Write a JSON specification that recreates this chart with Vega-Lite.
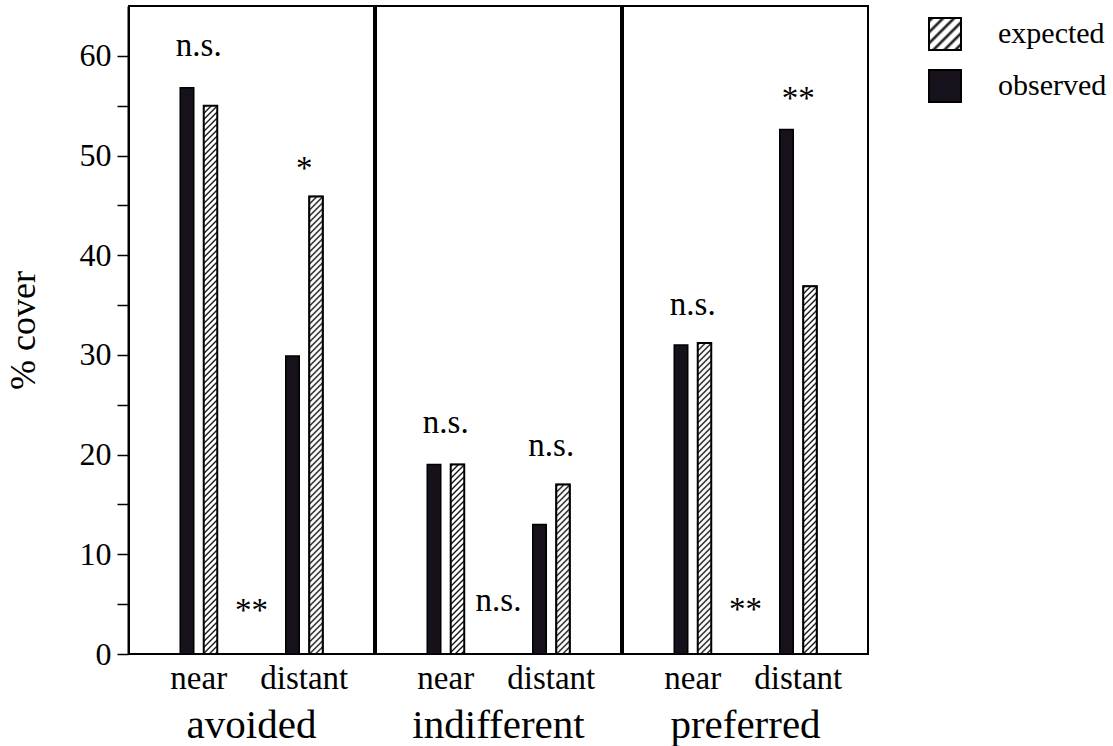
{
  "$schema": "https://vega.github.io/schema/vega-lite/v6.json",
  "background": "white",
  "padding": {"left": 5, "top": 5, "right": 5, "bottom": 2},
  "params": [
    {"name": "hs", "value": [
{"offset":0,"color":"#fff"},{"offset":0.003,"color":"#000"},{"offset":0.006,"color":"#fff"},
{"offset":0.01,"color":"#fff"},{"offset":0.013,"color":"#000"},{"offset":0.016,"color":"#fff"},
{"offset":0.02,"color":"#fff"},{"offset":0.023,"color":"#000"},{"offset":0.026,"color":"#fff"},
{"offset":0.03,"color":"#fff"},{"offset":0.033,"color":"#000"},{"offset":0.036,"color":"#fff"},
{"offset":0.04,"color":"#fff"},{"offset":0.043,"color":"#000"},{"offset":0.046,"color":"#fff"},
{"offset":0.05,"color":"#fff"},{"offset":0.053,"color":"#000"},{"offset":0.056,"color":"#fff"},
{"offset":0.06,"color":"#fff"},{"offset":0.063,"color":"#000"},{"offset":0.066,"color":"#fff"},
{"offset":0.07,"color":"#fff"},{"offset":0.073,"color":"#000"},{"offset":0.076,"color":"#fff"},
{"offset":0.08,"color":"#fff"},{"offset":0.083,"color":"#000"},{"offset":0.086,"color":"#fff"},
{"offset":0.09,"color":"#fff"},{"offset":0.093,"color":"#000"},{"offset":0.096,"color":"#fff"},
{"offset":0.10,"color":"#fff"},{"offset":0.103,"color":"#000"},{"offset":0.106,"color":"#fff"},
{"offset":0.11,"color":"#fff"},{"offset":0.113,"color":"#000"},{"offset":0.116,"color":"#fff"},
{"offset":0.12,"color":"#fff"},{"offset":0.123,"color":"#000"},{"offset":0.126,"color":"#fff"},
{"offset":0.13,"color":"#fff"},{"offset":0.133,"color":"#000"},{"offset":0.136,"color":"#fff"},
{"offset":0.14,"color":"#fff"},{"offset":0.143,"color":"#000"},{"offset":0.146,"color":"#fff"},
{"offset":0.15,"color":"#fff"},{"offset":0.153,"color":"#000"},{"offset":0.156,"color":"#fff"},
{"offset":0.16,"color":"#fff"},{"offset":0.163,"color":"#000"},{"offset":0.166,"color":"#fff"},
{"offset":0.17,"color":"#fff"},{"offset":0.173,"color":"#000"},{"offset":0.176,"color":"#fff"},
{"offset":0.18,"color":"#fff"},{"offset":0.183,"color":"#000"},{"offset":0.186,"color":"#fff"},
{"offset":0.19,"color":"#fff"},{"offset":0.193,"color":"#000"},{"offset":0.196,"color":"#fff"},
{"offset":0.20,"color":"#fff"},{"offset":0.203,"color":"#000"},{"offset":0.206,"color":"#fff"},
{"offset":0.21,"color":"#fff"},{"offset":0.213,"color":"#000"},{"offset":0.216,"color":"#fff"},
{"offset":0.22,"color":"#fff"},{"offset":0.223,"color":"#000"},{"offset":0.226,"color":"#fff"},
{"offset":0.23,"color":"#fff"},{"offset":0.233,"color":"#000"},{"offset":0.236,"color":"#fff"},
{"offset":0.24,"color":"#fff"},{"offset":0.243,"color":"#000"},{"offset":0.246,"color":"#fff"},
{"offset":0.25,"color":"#fff"},{"offset":0.253,"color":"#000"},{"offset":0.256,"color":"#fff"},
{"offset":0.26,"color":"#fff"},{"offset":0.263,"color":"#000"},{"offset":0.266,"color":"#fff"},
{"offset":0.27,"color":"#fff"},{"offset":0.273,"color":"#000"},{"offset":0.276,"color":"#fff"},
{"offset":0.28,"color":"#fff"},{"offset":0.283,"color":"#000"},{"offset":0.286,"color":"#fff"},
{"offset":0.29,"color":"#fff"},{"offset":0.293,"color":"#000"},{"offset":0.296,"color":"#fff"},
{"offset":0.30,"color":"#fff"},{"offset":0.303,"color":"#000"},{"offset":0.306,"color":"#fff"},
{"offset":0.31,"color":"#fff"},{"offset":0.313,"color":"#000"},{"offset":0.316,"color":"#fff"},
{"offset":0.32,"color":"#fff"},{"offset":0.323,"color":"#000"},{"offset":0.326,"color":"#fff"},
{"offset":0.33,"color":"#fff"},{"offset":0.333,"color":"#000"},{"offset":0.336,"color":"#fff"},
{"offset":0.34,"color":"#fff"},{"offset":0.343,"color":"#000"},{"offset":0.346,"color":"#fff"},
{"offset":0.35,"color":"#fff"},{"offset":0.353,"color":"#000"},{"offset":0.356,"color":"#fff"},
{"offset":0.36,"color":"#fff"},{"offset":0.363,"color":"#000"},{"offset":0.366,"color":"#fff"},
{"offset":0.37,"color":"#fff"},{"offset":0.373,"color":"#000"},{"offset":0.376,"color":"#fff"},
{"offset":0.38,"color":"#fff"},{"offset":0.383,"color":"#000"},{"offset":0.386,"color":"#fff"},
{"offset":0.39,"color":"#fff"},{"offset":0.393,"color":"#000"},{"offset":0.396,"color":"#fff"},
{"offset":0.40,"color":"#fff"},{"offset":0.403,"color":"#000"},{"offset":0.406,"color":"#fff"},
{"offset":0.41,"color":"#fff"},{"offset":0.413,"color":"#000"},{"offset":0.416,"color":"#fff"},
{"offset":0.42,"color":"#fff"},{"offset":0.423,"color":"#000"},{"offset":0.426,"color":"#fff"},
{"offset":0.43,"color":"#fff"},{"offset":0.433,"color":"#000"},{"offset":0.436,"color":"#fff"},
{"offset":0.44,"color":"#fff"},{"offset":0.443,"color":"#000"},{"offset":0.446,"color":"#fff"},
{"offset":0.45,"color":"#fff"},{"offset":0.453,"color":"#000"},{"offset":0.456,"color":"#fff"},
{"offset":0.46,"color":"#fff"},{"offset":0.463,"color":"#000"},{"offset":0.466,"color":"#fff"},
{"offset":0.47,"color":"#fff"},{"offset":0.473,"color":"#000"},{"offset":0.476,"color":"#fff"},
{"offset":0.48,"color":"#fff"},{"offset":0.483,"color":"#000"},{"offset":0.486,"color":"#fff"},
{"offset":0.49,"color":"#fff"},{"offset":0.493,"color":"#000"},{"offset":0.496,"color":"#fff"},
{"offset":0.50,"color":"#fff"},{"offset":0.503,"color":"#000"},{"offset":0.506,"color":"#fff"},
{"offset":0.51,"color":"#fff"},{"offset":0.513,"color":"#000"},{"offset":0.516,"color":"#fff"},
{"offset":0.52,"color":"#fff"},{"offset":0.523,"color":"#000"},{"offset":0.526,"color":"#fff"},
{"offset":0.53,"color":"#fff"},{"offset":0.533,"color":"#000"},{"offset":0.536,"color":"#fff"},
{"offset":0.54,"color":"#fff"},{"offset":0.543,"color":"#000"},{"offset":0.546,"color":"#fff"},
{"offset":0.55,"color":"#fff"},{"offset":0.553,"color":"#000"},{"offset":0.556,"color":"#fff"},
{"offset":0.56,"color":"#fff"},{"offset":0.563,"color":"#000"},{"offset":0.566,"color":"#fff"},
{"offset":0.57,"color":"#fff"},{"offset":0.573,"color":"#000"},{"offset":0.576,"color":"#fff"},
{"offset":0.58,"color":"#fff"},{"offset":0.583,"color":"#000"},{"offset":0.586,"color":"#fff"},
{"offset":0.59,"color":"#fff"},{"offset":0.593,"color":"#000"},{"offset":0.596,"color":"#fff"},
{"offset":0.60,"color":"#fff"},{"offset":0.603,"color":"#000"},{"offset":0.606,"color":"#fff"},
{"offset":0.61,"color":"#fff"},{"offset":0.613,"color":"#000"},{"offset":0.616,"color":"#fff"},
{"offset":0.62,"color":"#fff"},{"offset":0.623,"color":"#000"},{"offset":0.626,"color":"#fff"},
{"offset":0.63,"color":"#fff"},{"offset":0.633,"color":"#000"},{"offset":0.636,"color":"#fff"},
{"offset":0.64,"color":"#fff"},{"offset":0.643,"color":"#000"},{"offset":0.646,"color":"#fff"},
{"offset":0.65,"color":"#fff"},{"offset":0.653,"color":"#000"},{"offset":0.656,"color":"#fff"},
{"offset":0.66,"color":"#fff"},{"offset":0.663,"color":"#000"},{"offset":0.666,"color":"#fff"},
{"offset":0.67,"color":"#fff"},{"offset":0.673,"color":"#000"},{"offset":0.676,"color":"#fff"},
{"offset":0.68,"color":"#fff"},{"offset":0.683,"color":"#000"},{"offset":0.686,"color":"#fff"},
{"offset":0.69,"color":"#fff"},{"offset":0.693,"color":"#000"},{"offset":0.696,"color":"#fff"},
{"offset":0.70,"color":"#fff"},{"offset":0.703,"color":"#000"},{"offset":0.706,"color":"#fff"},
{"offset":0.71,"color":"#fff"},{"offset":0.713,"color":"#000"},{"offset":0.716,"color":"#fff"},
{"offset":0.72,"color":"#fff"},{"offset":0.723,"color":"#000"},{"offset":0.726,"color":"#fff"},
{"offset":0.73,"color":"#fff"},{"offset":0.733,"color":"#000"},{"offset":0.736,"color":"#fff"},
{"offset":0.74,"color":"#fff"},{"offset":0.743,"color":"#000"},{"offset":0.746,"color":"#fff"},
{"offset":0.75,"color":"#fff"},{"offset":0.753,"color":"#000"},{"offset":0.756,"color":"#fff"},
{"offset":0.76,"color":"#fff"},{"offset":0.763,"color":"#000"},{"offset":0.766,"color":"#fff"},
{"offset":0.77,"color":"#fff"},{"offset":0.773,"color":"#000"},{"offset":0.776,"color":"#fff"},
{"offset":0.78,"color":"#fff"},{"offset":0.783,"color":"#000"},{"offset":0.786,"color":"#fff"},
{"offset":0.79,"color":"#fff"},{"offset":0.793,"color":"#000"},{"offset":0.796,"color":"#fff"},
{"offset":0.80,"color":"#fff"},{"offset":0.803,"color":"#000"},{"offset":0.806,"color":"#fff"},
{"offset":0.81,"color":"#fff"},{"offset":0.813,"color":"#000"},{"offset":0.816,"color":"#fff"},
{"offset":0.82,"color":"#fff"},{"offset":0.823,"color":"#000"},{"offset":0.826,"color":"#fff"},
{"offset":0.83,"color":"#fff"},{"offset":0.833,"color":"#000"},{"offset":0.836,"color":"#fff"},
{"offset":0.84,"color":"#fff"},{"offset":0.843,"color":"#000"},{"offset":0.846,"color":"#fff"},
{"offset":0.85,"color":"#fff"},{"offset":0.853,"color":"#000"},{"offset":0.856,"color":"#fff"},
{"offset":0.86,"color":"#fff"},{"offset":0.863,"color":"#000"},{"offset":0.866,"color":"#fff"},
{"offset":0.87,"color":"#fff"},{"offset":0.873,"color":"#000"},{"offset":0.876,"color":"#fff"},
{"offset":0.88,"color":"#fff"},{"offset":0.883,"color":"#000"},{"offset":0.886,"color":"#fff"},
{"offset":0.89,"color":"#fff"},{"offset":0.893,"color":"#000"},{"offset":0.896,"color":"#fff"},
{"offset":0.90,"color":"#fff"},{"offset":0.903,"color":"#000"},{"offset":0.906,"color":"#fff"},
{"offset":0.91,"color":"#fff"},{"offset":0.913,"color":"#000"},{"offset":0.916,"color":"#fff"},
{"offset":0.92,"color":"#fff"},{"offset":0.923,"color":"#000"},{"offset":0.926,"color":"#fff"},
{"offset":0.93,"color":"#fff"},{"offset":0.933,"color":"#000"},{"offset":0.936,"color":"#fff"},
{"offset":0.94,"color":"#fff"},{"offset":0.943,"color":"#000"},{"offset":0.946,"color":"#fff"}
    ]}
  ],
  "data": {"values": [
    {"group": "avoided", "pos": "near", "type": "observed", "value": 56.8},
    {"group": "avoided", "pos": "near", "type": "expected", "value": 55.0},
    {"group": "avoided", "pos": "distant", "type": "observed", "value": 29.9},
    {"group": "avoided", "pos": "distant", "type": "expected", "value": 45.9},
    {"group": "indifferent", "pos": "near", "type": "observed", "value": 19.0},
    {"group": "indifferent", "pos": "near", "type": "expected", "value": 19.0},
    {"group": "indifferent", "pos": "distant", "type": "observed", "value": 13.0},
    {"group": "indifferent", "pos": "distant", "type": "expected", "value": 17.0},
    {"group": "preferred", "pos": "near", "type": "observed", "value": 31.0},
    {"group": "preferred", "pos": "near", "type": "expected", "value": 31.2},
    {"group": "preferred", "pos": "distant", "type": "observed", "value": 52.6},
    {"group": "preferred", "pos": "distant", "type": "expected", "value": 36.9},
    {"group": "avoided", "pos": "near", "label": "n.s.", "at": 60.0},
    {"group": "avoided", "pos": "distant", "label": "*", "at": 47.6},
    {"group": "avoided", "pos": "mid", "label": "**", "at": 3.3},
    {"group": "indifferent", "pos": "near", "label": "n.s.", "at": 22.2},
    {"group": "indifferent", "pos": "distant", "label": "n.s.", "at": 19.9},
    {"group": "indifferent", "pos": "mid", "label": "n.s.", "at": 4.35},
    {"group": "preferred", "pos": "near", "label": "n.s.", "at": 34.0},
    {"group": "preferred", "pos": "distant", "label": "**", "at": 54.7},
    {"group": "preferred", "pos": "mid", "label": "**", "at": 3.4}
  ]},
  "spacing": 0,
  "facet": {
    "column": {
      "field": "group", "type": "nominal",
      "sort": ["avoided", "indifferent", "preferred"],
      "title": null,
      "header": {"labelOrient": "bottom", "labelFont": "Liberation Serif", "labelFontSize": 41, "labelColor": "black", "labelPadding": 11,
        "labelExpr": "'\u2002\u2009' + datum.value"}
    }
  },
  "spec": {
    "width": 245,
    "height": 648,
    "encoding": {
      "x": {
        "field": "pos", "type": "nominal", "title": null,
        "scale": {"domain": ["near", "mid", "distant"], "paddingInner": 0, "paddingOuter": 0.822},
        "axis": {"labelExpr": "datum.value === 'mid' ? '' : datum.value", "ticks": false, "domain": false, "labelAngle": 0, "labelPadding": 6, "labelFontSize": 33}
      }
    },
    "layer": [
      {
        "transform": [{"filter": "datum.type != null"}],
        "mark": {"type": "bar", "stroke": "black", "strokeWidth": 1.5},
        "encoding": {
          "xOffset": {"field": "type", "type": "nominal", "scale": {"domain": ["observed", "expected"], "paddingInner": 0.4255, "paddingOuter": 0.335}},
          "y": {
            "field": "value", "type": "quantitative", "title": "% cover",
            "scale": {"domain": [0, 65], "nice": false},
            "axis": {
              "values": [0, 5, 10, 15, 20, 25, 30, 35, 40, 45, 50, 55, 60],
              "labelExpr": "datum.value % 10 === 0 ? datum.label : ''",
              "labelOverlap": false,
              "tickSize": 11, "tickWidth": 1.5, "labelPadding": 6,
              "labelFontSize": 32, "titleFontSize": 36, "titlePadding": 37,
              "domainWidth": 2,
              "encode": {"ticks": {"update": {"x2": {"signal": "datum.value % 10 === 0 ? -11 : -7"}}}}
            }
          },
          "fill": {
            "field": "type", "type": "nominal",
            "scale": {"domain": ["expected", "observed"], "range": [{"expr": "{gradient: 'linear', x1: 0, y1: 0, x2: 17.19, y2: 17.19, stops: hs}"}, "#16111a"]},
            "legend": {
              "title": null, "orient": "none", "legendX": 799, "legendY": 11, "padding": 0,
              "symbolType": "square", "symbolSize": 1024,
              "symbolStrokeColor": "black", "symbolStrokeWidth": 2, "symbolOpacity": 1,
              "labelFont": "Liberation Serif", "labelFontSize": 30, "labelColor": "black",
              "labelOffset": 36, "rowPadding": 12,
              "encode": {"symbols": {"update": {"stroke": {"value": "black"}}}}
            }
          }
        }
      },
      {
        "transform": [{"filter": "datum.type === 'expected'"}],
        "mark": {"type": "bar", "stroke": "black", "strokeWidth": 2,
          "fill": {"expr": "{gradient: 'linear', x1: 0, y1: 0, x2: 8100 / (182.25 + pow(datum.value * 9.969, 2)), y2: 5981.4 * datum.value / (182.25 + pow(datum.value * 9.969, 2)), stops: hs}"}},
        "encoding": {
          "xOffset": {"field": "type", "type": "nominal", "scale": {"domain": ["observed", "expected"], "paddingInner": 0.4255, "paddingOuter": 0.335}},
          "y": {"field": "value", "type": "quantitative", "title": "% cover"}
        }
      },
      {
        "transform": [{"filter": "datum.label != null"}],
        "mark": {"type": "text", "font": "Liberation Serif", "fontSize": 33, "baseline": "alphabetic", "color": "black"},
        "encoding": {
          "y": {"field": "at", "type": "quantitative", "title": "% cover"},
          "text": {"field": "label"}
        }
      }
    ]
  },
  "config": {
    "font": "Liberation Serif",
    "view": {"stroke": "black", "strokeWidth": 2},
    "axis": {"labelFont": "Liberation Serif", "titleFont": "Liberation Serif", "labelColor": "black", "titleColor": "black", "titleFontWeight": "normal", "domainColor": "black", "tickColor": "black", "grid": false}
  }
}
